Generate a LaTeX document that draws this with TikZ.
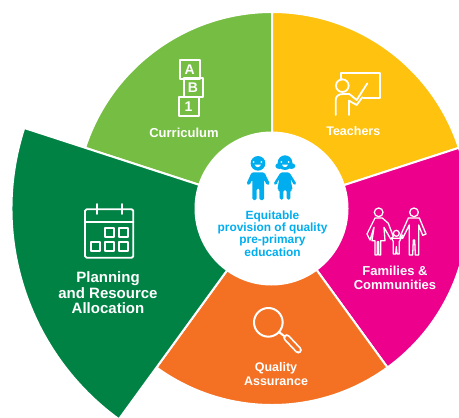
\documentclass[tikz,border=0pt]{standalone}
\usepackage{fontspec}
\setmainfont{Liberation Sans}
\definecolor{cgreen}{HTML}{76BE43}
\definecolor{cyellow}{HTML}{FFC20E}
\definecolor{cmagenta}{HTML}{EC008C}
\definecolor{corange}{HTML}{F47023}
\definecolor{cdark}{HTML}{008244}
\definecolor{cblue}{HTML}{00AEEF}
\tikzset{
  sector/.style={draw=white,line width=2bp,line join=miter},
  icon/.style={draw=white,line width=1.8bp,line join=round,line cap=round},
  thinicon/.style={icon,line width=1.3bp},
  label/.style={text=white,align=center,inner sep=0pt,font=\fontsize{#1bp}{#1bp}\selectfont\bfseries},
}
\begin{document}
\begin{tikzpicture}[x=1bp,y=1bp]
\clip (0,0) rectangle (459,417);
% sectors
\path[sector,fill=cgreen]   (272,208.5) -- ++(90:196.5bp)  arc (90:162:196.5bp)   -- cycle;
\path[sector,fill=cyellow]  (272,208.5) -- ++(18:196.5bp)  arc (18:90:196.5bp)    -- cycle;
\path[sector,fill=cmagenta] (272,208.5) -- ++(-54:196.5bp) arc (-54:18:196.5bp)   -- cycle;
\path[sector,fill=corange]  (272,208.5) -- ++(234:196.5bp) arc (234:306:196.5bp)  -- cycle;
\path[sector,fill=cdark]    (272,208.5) -- ++(162:260.5bp) arc (162:234:260.5bp)  -- cycle;
\fill[white] (271.5,208.5) circle (77);
% labels
\node[label=13] (cur) at (184,284.5) {Curriculum};
\node[label=12.5] (tea) at (353.3,285.5) {Teachers};
\node[label=13] (fam) at (395,139) {Families \&\\[0.5bp]Communities};
\node[label=15] (pla) at (108,124) {Planning\\[0.5bp]and Resource\\[0.5bp]Allocation};
\node[label=12.5] (qua) at (276,43) {Quality\\[1bp]Assurance};
\node[align=center,inner sep=0pt,text=cblue,font=\fontsize{11.9bp}{12.2bp}\selectfont\bfseries] (eq) at (272.5,183.5) {Equitable\\provision of quality\\pre-primary\\education};
\node[label=14] (la) at (189.7,347) {A};
\node[label=14] (lb) at (193,329) {B};
\node[label=14] (lone) at (188.5,310.5) {1};
\begin{scope}[shift={(0,417)},yscale=-1]
% blocks
\draw[icon] (179.7,60) rectangle (199.7,79.3);
\draw[icon] (183.7,78.3) rectangle (202.7,97.3);
\draw[icon] (178.7,96.7) rectangle (198.7,116);
% teacher
\begin{scope}[shift={(130,40)},scale=1/3]
\draw[icon] (634,120) -- (634,98) -- (750,98) -- (750,173) -- (700,173);
\draw[icon] (637,137) circle (19);
\draw[icon] (617,225) -- (617,182) .. controls (617,168) and (625,162) .. (640,162) -- (658,162) -- (680,180) -- (712,130);
\draw[icon] (657,225) -- (657,182) -- (680,195) -- (697,172);
\end{scope}
% calendar
\begin{scope}[shift={(60,190)},scale=1/3]
\draw[icon,rounded corners=1.5bp] (75,58) rectangle (220,203);
\draw[icon] (75,95) -- (220,95);
\draw[icon] (110,42) -- (110,72);
\draw[icon] (187,42) -- (187,72);
\foreach \a/\b in {135/115,178/115,93/157,135/157,178/157}
  \draw[icon] (\a,\b) rectangle ++(27,26);
\end{scope}
% magnifier
\begin{scope}[shift={(230,295)},scale=1/3]
\draw[white,line width=7bp,line cap=round] (170,128) -- (205,165);
\draw[corange,line width=3.5bp,line cap=round] (170,128) -- (205,165);
\draw[icon,line width=2bp] (115,82) circle (43);
\draw[icon,line width=2bp] (148,112) -- (165,125);
\end{scope}
% family
\begin{scope}[shift={(340,190)},scale=1/3]
\draw[thinicon] (116,67) circle (13);
\draw[thinicon] (222,67) circle (13);
\draw[thinicon] (169,130) circle (9);
\draw[thinicon] (105,84) -- (127,84) -- (145,100) -- (160,140) -- (152,147) -- (132,112) -- (135,152) -- (122,152) -- (122,195) -- (116,195) -- (116,155) -- (112,155) -- (112,195) -- (105,195) -- (105,152) -- (96,152) -- (102,112) -- (90,150) -- (81,132) -- cycle;
\draw[thinicon] (205,84) -- (238,84) -- (258,132) -- (248,136) -- (236,105) -- (236,195) -- (226,195) -- (224,150) -- (220,150) -- (218,195) -- (208,195) -- (208,105) -- (188,145) -- (180,140) -- cycle;
\draw[thinicon] (160,145) -- (178,145) -- (188,135) -- (178,155) -- (178,192) -- (171,192) -- (169,170) -- (167,192) -- (160,192) -- (160,155) -- (155,145) -- cycle;
\end{scope}
% children
\begin{scope}[shift={(170,130)},scale=1/3]
\fill[cblue] (264,100) circle (22);
\fill[cblue,rounded corners=1.5bp] (245,127) -- (283,127) -- (300,162) -- (291,166) -- (282,148) -- (282,210) -- (268,210) -- (268,175) -- (260,175) -- (260,210) -- (247,210) -- (247,148) -- (238,166) -- (229,162) -- cycle;
\fill[white] (251,96) circle (3);
\fill[white] (274,96) circle (3);
\fill[white] (254,104) .. controls (258,114) and (268,114) .. (273,104) -- cycle;
\fill[cblue] (345,98) circle (22);
\fill[cblue] (328,108) ellipse (12 and 9);
\fill[cblue] (364,108) ellipse (12 and 9);
\fill[cblue,rounded corners=1.5bp] (332,127) -- (358,127) -- (380,162) -- (372,166) -- (361,145) -- (368,180) -- (361,180) -- (361,209) -- (350,209) -- (350,180) -- (340,180) -- (340,209) -- (329,209) -- (329,180) -- (322,180) -- (328,145) -- (318,166) -- (310,162) -- cycle;
\fill[white] (334,96) circle (3);
\fill[white] (356,96) circle (3);
\fill[white] (336,104) .. controls (340,114) and (350,114) .. (354,104) -- cycle;
\end{scope}
\end{scope}
\end{tikzpicture}
\end{document}
